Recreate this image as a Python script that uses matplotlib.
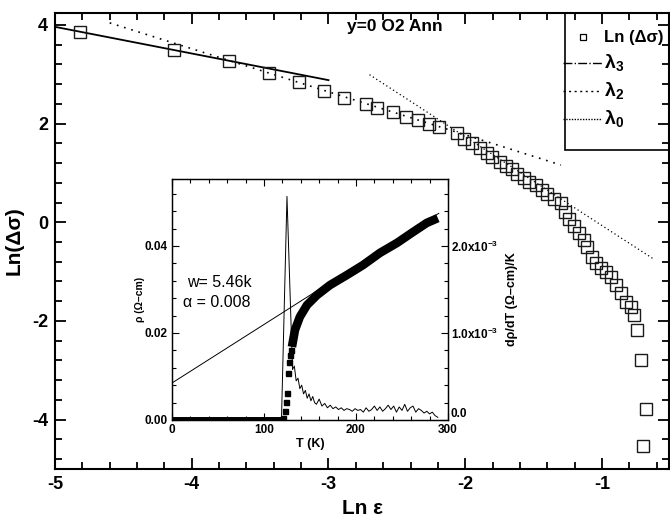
import numpy as np
import matplotlib
matplotlib.use('Agg')
import matplotlib.pyplot as plt
from matplotlib.lines import Line2D
from matplotlib.patches import Rectangle
from matplotlib.ticker import MultipleLocator, FixedLocator, FixedFormatter

plt.rcParams['font.family'] = ['Liberation Sans', 'DejaVu Sans']
plt.rcParams['font.weight'] = 'bold'
plt.rcParams['axes.labelweight'] = 'bold'
plt.rcParams['axes.unicode_minus'] = False
plt.rcParams['mathtext.fontset'] = 'custom'
plt.rcParams['mathtext.rm'] = 'Liberation Sans:bold'
plt.rcParams['mathtext.bf'] = 'Liberation Sans:bold'
plt.rcParams['mathtext.it'] = 'Liberation Sans:bold'
plt.rcParams['mathtext.default'] = 'bf'

# --- main panel: Ln(delta sigma) vs Ln(eps)
ln_eps = [-4.818, -4.131, -3.730, -3.438, -3.219, -3.036, -2.883, -2.723, -2.642,
          -2.526, -2.431, -2.343, -2.263, -2.190, -2.058, -2.007, -1.949, -1.891,
          -1.839, -1.803, -1.745, -1.701, -1.657, -1.620, -1.569, -1.533, -1.482,
          -1.438, -1.401, -1.350, -1.299, -1.270, -1.241, -1.204, -1.168, -1.131,
          -1.109, -1.073, -1.044, -1.007, -0.971, -0.934, -0.898, -0.861, -0.825,
          -0.788, -0.766, -0.745, -0.715, -0.679, -0.701]
ln_dsig = [3.858, 3.493, 3.270, 3.026, 2.844, 2.661, 2.519, 2.398, 2.316,
           2.235, 2.134, 2.073, 1.992, 1.931, 1.809, 1.688, 1.606, 1.505,
           1.404, 1.323, 1.221, 1.140, 1.079, 0.978, 0.897, 0.815, 0.755,
           0.653, 0.572, 0.471, 0.389, 0.207, 0.065, -0.077, -0.219, -0.361,
           -0.503, -0.706, -0.828, -0.929, -1.010, -1.112, -1.274, -1.436, -1.619,
           -1.720, -1.882, -2.187, -2.795, -3.789, -4.540]

fit3_x, fit3_y = [-5.0, -3.0], [3.96, 2.88]
fit2_x, fit2_y = [-4.6, -1.3], [4.04, 1.16]
fit0_x, fit0_y = [-2.70, -0.62], [2.99, -0.75]

# --- inset: rho(T) and d rho/dT
T_flat, rho_flat = [0, 120.5], [0.0, 0.0]
T_step = [120.7, 122.8, 123.9, 125.0, 126.1, 127.2, 128.3, 129.3]
rho_step = [0.0005, 0.0021, 0.0041, 0.0062, 0.0108, 0.0133, 0.0150, 0.0160]
T_curve = [130.4, 133.7, 139.0, 146.7, 157.6, 171.7, 190.0, 207.6, 226.0, 244.6, 262.0, 277.0, 289.0]
rho_curve = [0.0168, 0.0207, 0.0237, 0.0264, 0.0287, 0.0310, 0.0333, 0.0356, 0.0384, 0.0407,
             0.0432, 0.0453, 0.0464]
T_line, rho_line = [0, 290], [0.0085, 0.0475]

T_d = [0, 119, 125, 131, 133, 135, 137, 139, 141, 143,
       145, 147, 149, 151, 153, 155, 157, 160, 163, 166,
       169, 172, 175, 178, 181, 184, 187, 190, 193, 196,
       199, 202, 205, 208, 211, 214, 217, 220, 223, 226,
       229, 232, 235, 238, 241, 244, 247, 250, 253, 256,
       259, 262, 265, 268, 271, 274, 277, 280, 283, 286, 289]
drho_d = [0.0, 0.0, 2.57, 0.58, 0.62, 0.45, 0.48, 0.36, 0.40, 0.30,
          0.34, 0.25, 0.30, 0.22, 0.27, 0.20, 0.18, 0.24, 0.16, 0.19,
          0.14, 0.17, 0.13, 0.15, 0.12, 0.14, 0.11, 0.13, 0.12, 0.10,
          0.13, 0.11, 0.12, 0.09, 0.14, 0.10, 0.12, 0.16, 0.11, 0.15,
          0.10, 0.13, 0.17, 0.12, 0.16, 0.09, 0.15, 0.11, 0.18, 0.10,
          0.14, 0.16, 0.09, 0.13, 0.11, 0.08, 0.10, 0.07, 0.09, 0.05, 0.03]

fig = plt.figure(figsize=(6.7, 5.21), dpi=100)
ax = fig.add_axes([0.0821, 0.0998, 0.9164, 0.8752])

ax.plot(ln_eps, ln_dsig, ls='none', marker='s', ms=8.4, mfc='none', mec='#1a1a1a', mew=1.0, zorder=3)
ax.plot(fit3_x, fit3_y, color='k', lw=1.3)
ax.plot(fit2_x, fit2_y, color='k', lw=1.2, ls=(0, (1, 3.5)))
ax.plot(fit0_x, fit0_y, color='k', lw=0.9, ls=(0, (1, 2.2)))

ax.set_xlim(-5, -0.51)
ax.set_ylim(-5.0, 4.24)
ax.xaxis.set_major_locator(MultipleLocator(1))
ax.xaxis.set_minor_locator(MultipleLocator(0.2))
ax.yaxis.set_major_locator(MultipleLocator(2))
ax.yaxis.set_minor_locator(MultipleLocator(0.4))
ax.tick_params(which='both', direction='in', top=True, right=True, width=1.3, labelsize=13)
ax.tick_params(which='major', length=8, pad=5)
ax.tick_params(which='minor', length=5)
for s in ax.spines.values():
    s.set_linewidth(1.5)
ax.set_xlabel('Ln ε', fontsize=15, labelpad=4)
ax.set_ylabel('Ln(Δσ)', fontsize=15, labelpad=6)
ax.text(-2.865, 3.96, 'y=0 O2 Ann', fontsize=12.5, ha='left', va='center')

# legend (box drawn by hand so it runs to the right edge)
ax.add_patch(Rectangle((0.8306, 0.6996), 0.1694, 0.3004, transform=ax.transAxes,
                       fill=False, ec='k', lw=1.2, zorder=5))
handles = [Line2D([], [], ls='none', marker='s', ms=5, mfc='none', mec='k', mew=0.9),
           Line2D([], [], color='k', lw=1.0, ls='-.'),
           Line2D([], [], color='k', lw=1.0, ls=(0, (1.5, 2.5))),
           Line2D([], [], color='k', lw=1.0, ls=(0, (1, 1)))]
labels = ['Ln (Δσ)', 'λ$_3$', 'λ$_2$', 'λ$_0$']
leg = ax.legend(handles, labels, loc='upper left', bbox_to_anchor=(0.828, 0.962),
                frameon=False, borderaxespad=0, borderpad=0, handlelength=2.3,
                handletextpad=0.15, labelspacing=0.42, fontsize=12)
for t in leg.get_texts()[1:]:
    t.set_fontsize(14)

# inset
axi = fig.add_axes([0.2567, 0.1939, 0.4119, 0.4626])
axr = axi.twinx()
axi.plot(T_flat, rho_flat, color='k', lw=5, solid_capstyle='butt')
axi.plot(T_step, rho_step, ls='none', marker='s', ms=3.6, color='k')
axi.plot(T_curve, rho_curve, color='k', lw=6.2, solid_capstyle='butt', solid_joinstyle='round')
axi.plot(T_line, rho_line, color='k', lw=0.7)
axr.plot(T_d, np.array(drho_d) * 1e-3, color='k', lw=0.7)

axi.set_xlim(0, 300)
axi.set_ylim(0, 0.0554)
axr.set_ylim(0, 2.77e-3)
axi.xaxis.set_major_locator(MultipleLocator(100))
axi.xaxis.set_minor_locator(MultipleLocator(20))
axi.yaxis.set_major_locator(FixedLocator([0.0, 0.02, 0.04]))
axi.yaxis.set_major_formatter(FixedFormatter(['0.00', '0.02', '0.04']))
axi.yaxis.set_minor_locator(MultipleLocator(0.004))
axr.yaxis.set_major_locator(FixedLocator([0.0, 1e-3, 2e-3]))
axr.yaxis.set_major_formatter(FixedFormatter(['0.0', '1.0x10$^{-3}$', '2.0x10$^{-3}$']))
axr.yaxis.set_minor_locator(MultipleLocator(0.2e-3))
axi.tick_params(which='both', direction='in', top=True, width=0.8, labelsize=8.5, pad=3)
axi.tick_params(which='major', length=5)
axi.tick_params(which='minor', length=3)
axr.tick_params(which='both', direction='in', width=0.8, labelsize=8.5, pad=2)
axr.tick_params(which='major', length=5)
axr.tick_params(which='minor', length=3)
for a in (axi, axr):
    for s in a.spines.values():
        s.set_linewidth(0.9)
axr.get_yticklabels()[0].set_va('bottom')
axi.set_xlabel('T (K)', fontsize=9, labelpad=1)
axi.set_ylabel('ρ (Ω–cm)', fontsize=7.5)
axi.yaxis.set_label_coords(-0.098, 0.5)
axr.set_ylabel('dρ/dT (Ω–cm)/K', fontsize=9, rotation=90)
axr.yaxis.set_label_coords(1.21, 0.5)
axi.text(16, 0.0317, 'w= 5.46k', fontsize=11.5, fontweight='normal', ha='left', va='center')
axi.text(12, 0.0269, 'α = 0.008', fontsize=11.5, fontweight='normal', ha='left', va='center')

fig.savefig('out.png', dpi=100)
